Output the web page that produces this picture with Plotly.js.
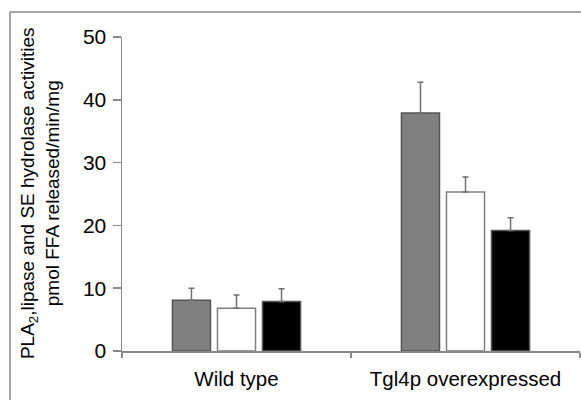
<!DOCTYPE html>
<html>
<head>
<meta charset="utf-8">
<script src="https://cdn.plot.ly/plotly-3.0.1.min.js"></script>
<style>html,body{margin:0;padding:0;background:#fff;}#chart{width:581px;height:400px;}</style>
</head>
<body>
<div id="chart"></div>
<script>
const categories = ['Wild type', 'Tgl4p overexpressed'];
const pla2Values = [8.1, 37.9];
const pla2Errors = [1.9, 4.9];
const lipaseValues = [6.8, 25.3];
const lipaseErrors = [2.1, 2.4];
const seValues = [7.9, 19.2];
const seErrors = [2.0, 2.0];
const yTicks = [0, 10, 20, 30, 40, 50];

function series(name, vals, errs, fill, edge) {
  return {
    type: 'bar', name: name, x: categories, y: vals,
    marker: {color: fill, line: {color: edge, width: 1.5}},
    error_y: {type: 'data', symmetric: false, array: errs, arrayminus: errs.map(() => 0),
              color: '#707070', thickness: 1.5, width: 3},
    hoverinfo: 'skip'
  };
}

const data = [
  series('PLA2', pla2Values, pla2Errors, '#808080', '#555555'),
  series('Lipase', lipaseValues, lipaseErrors, '#ffffff', '#808080'),
  series('SE hydrolase', seValues, seErrors, '#000000', '#555555')
];

const layout = {
  width: 581, height: 400,
  margin: {l: 122, r: 1, t: 37, b: 49},
  paper_bgcolor: '#ffffff', plot_bgcolor: '#ffffff',
  showlegend: false,
  barmode: 'group', bargap: 0.41, bargroupgap: 0.155,
  font: {family: 'Liberation Sans, Arial, sans-serif', size: 20, color: '#000'},
  xaxis: {
    range: [-0.5, 1.5], showline: true, linecolor: '#888888', linewidth: 1.5,
    ticks: 'outside', tickson: 'boundaries', ticklen: 5, tickcolor: '#888888', tickwidth: 1.5,
    showgrid: false, zeroline: false, tickfont: {size: 20.5}, ticklabelstandoff: 9, fixedrange: true
  },
  yaxis: {
    range: [0, 50], tickvals: yTicks, ticktext: yTicks.map(String),
    showline: true, linecolor: '#888888', linewidth: 1.5,
    ticks: 'outside', ticklen: 8, tickcolor: '#888888', tickwidth: 1.5,
    showgrid: false, zeroline: false, tickfont: {size: 21}, ticklabelstandoff: 2, fixedrange: true
  },
  annotations: [{
    xref: 'paper', yref: 'paper', x: -0.1790, y: 0.503,
    xanchor: 'center', yanchor: 'middle', textangle: -90, showarrow: false,
    text: 'PLA<sub>2</sub>,lipase and SE hydrolase activities<br>pmol FFA released/min/mg',
    font: {size: 19, color: '#000'}
  }],
  shapes: [
    {type: 'line', xref: 'paper', yref: 'paper', x0: -0.2445, x1: 1.01, y0: 1.0796, y1: 1.0796,
     line: {color: '#888888', width: 1.5}},
    {type: 'line', xref: 'paper', yref: 'paper', x0: -0.2445, x1: -0.2445, y0: 1.0796, y1: -0.2,
     line: {color: '#888888', width: 1.5}}
  ]
};

Plotly.newPlot('chart', data, layout, {displayModeBar: false, staticPlot: true});
</script>
</body>
</html>
